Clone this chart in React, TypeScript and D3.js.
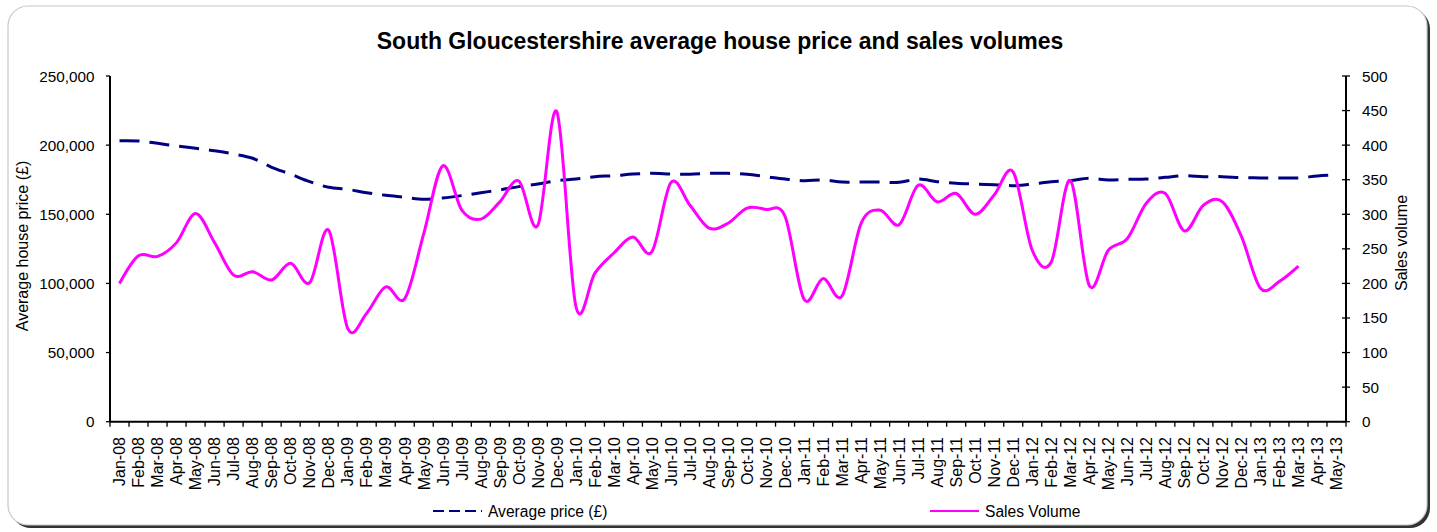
import React from "react";
import * as d3 from "d3";

const months = [
  "Jan-08","Feb-08","Mar-08","Apr-08","May-08","Jun-08","Jul-08","Aug-08","Sep-08","Oct-08","Nov-08","Dec-08",
  "Jan-09","Feb-09","Mar-09","Apr-09","May-09","Jun-09","Jul-09","Aug-09","Sep-09","Oct-09","Nov-09","Dec-09",
  "Jan-10","Feb-10","Mar-10","Apr-10","May-10","Jun-10","Jul-10","Aug-10","Sep-10","Oct-10","Nov-10","Dec-10",
  "Jan-11","Feb-11","Mar-11","Apr-11","May-11","Jun-11","Jul-11","Aug-11","Sep-11","Oct-11","Nov-11","Dec-11",
  "Jan-12","Feb-12","Mar-12","Apr-12","May-12","Jun-12","Jul-12","Aug-12","Sep-12","Oct-12","Nov-12","Dec-12",
  "Jan-13","Feb-13","Mar-13","Apr-13","May-13",
];

const averagePrice = [
  203200, 203000, 201300, 199400, 197700, 196000, 193600, 190500, 184000, 179000, 173600, 169500,
  168000, 165600, 163700, 162300, 160800, 161800, 163500, 165600, 167600, 170000, 171900, 174300,
  175500, 177200, 177900, 179100, 179600, 179100, 178900, 179600, 179600, 178900, 177200, 175500,
  174300, 174800, 173300, 173300, 173300, 173100, 175500, 173600, 172400, 171900, 171400, 170700,
  171900, 173600, 174300, 176000, 174800, 175300, 175500, 176700, 177900, 177200, 177200, 176500,
  176300, 176300, 176300, 177700, 178400,
];

const salesVolume = [
  200, 240, 239, 259, 301, 259, 212, 217, 205, 229, 201, 277,
  135, 157, 195, 178, 272, 370, 306, 293, 318, 348, 284, 448,
  167, 215, 244, 267, 246, 346, 313, 280, 287, 309, 307, 297,
  177, 207, 182, 287, 306, 285, 342, 318, 330, 300, 328, 361,
  248, 231, 349, 197, 248, 265, 316, 330, 276, 313, 318, 268,
  193, 203, 225,
];

const priceTicks = [0, 50000, 100000, 150000, 200000, 250000];
const volumeTicks = [0, 50, 100, 150, 200, 250, 300, 350, 400, 450, 500];

const W = 1437;
const H = 532;
const FONT = "'Liberation Sans', Arial, Helvetica, sans-serif";

export default function App() {
  const left = 110;
  const right = 1346;
  const top = 76;
  const bottom = 421.7;

  const x = d3.scaleBand<string>().domain(months).range([left, right]).paddingInner(0).paddingOuter(0);
  const yL = d3.scaleLinear().domain([0, 250000]).range([bottom, top]);
  const yR = d3.scaleLinear().domain([0, 500]).range([bottom, top]);
  const cx = (m: string) => (x(m) as number) + x.bandwidth() / 2;

  const priceLine = d3
    .line<number>()
    .x((_, i) => cx(months[i]))
    .y((d) => yL(d))
    .curve(d3.curveCatmullRom.alpha(0));
  const volLine = d3
    .line<number>()
    .x((_, i) => cx(months[i]))
    .y((d) => yR(d))
    .curve(d3.curveCatmullRom.alpha(0));

  const fmt = d3.format(",");
  const boundaries = d3.range(months.length + 1).map((k) => left + k * x.bandwidth());

  return (
    <svg
      width={W}
      height={H}
      style={{ position: "absolute", left: 0, top: 0, background: "#fff" }}
      fontFamily={FONT}
    >
      {/* frame with shadow */}
      <rect x={11} y={9} width={1419} height={519} rx={20} ry={20} fill="#333" />
      <rect x={8} y={6} width={1419} height={519} rx={20} ry={20} fill="#fff" stroke="#c8c8c8" strokeWidth={1.2} />

      {/* title */}
      <text x={720} y={49} textAnchor="middle" fontSize={23} fontWeight="bold" fill="#000">
        South Gloucestershire average house price and sales volumes
      </text>

      {/* left axis */}
      <line x1={left} x2={left} y1={top} y2={bottom} stroke="#000" strokeWidth={2} />
      {priceTicks.map((t) => (
        <g key={"pl" + t}>
          <line x1={left - 4} x2={left} y1={yL(t)} y2={yL(t)} stroke="#000" strokeWidth={1.3} />
          <text x={94.5} y={yL(t)} dy="0.36em" textAnchor="end" fontSize={15.3} fill="#000">
            {fmt(t)}
          </text>
        </g>
      ))}

      {/* right axis */}
      <line x1={right} x2={right} y1={top} y2={bottom} stroke="#000" strokeWidth={2} />
      {volumeTicks.map((t) => (
        <g key={"vr" + t}>
          <line x1={right - 4} x2={right + 4} y1={yR(t)} y2={yR(t)} stroke="#000" strokeWidth={1.3} />
          <text x={1362} y={yR(t)} dy="0.36em" textAnchor="start" fontSize={15.3} fill="#000">
            {t}
          </text>
        </g>
      ))}

      {/* x axis */}
      <line x1={left} x2={right} y1={bottom} y2={bottom} stroke="#000" strokeWidth={2} />
      {boundaries.map((b, k) => (
        <line key={"xt" + k} x1={b} x2={b} y1={bottom} y2={bottom + 5} stroke="#000" strokeWidth={1.3} />
      ))}
      {months.map((m) => (
        <text
          key={"xl" + m}
          transform={`translate(${cx(m)},437) rotate(-90)`}
          dy="0.36em"
          textAnchor="end"
          fontSize={16}
          fill="#000"
        >
          {m}
        </text>
      ))}

      {/* axis titles */}
      <text transform="translate(28,246) rotate(-90)" textAnchor="middle" fontSize={16} fill="#000">
        Average house price (£)
      </text>
      <text transform="translate(1407,243) rotate(-90)" textAnchor="middle" fontSize={16} fill="#000">
        Sales volume
      </text>

      {/* series */}
      <path
        d={priceLine(averagePrice) || ""}
        fill="none"
        stroke="#000080"
        strokeWidth={3}
        strokeDasharray="20,10"
      />
      <path d={volLine(salesVolume) || ""} fill="none" stroke="#FF00FF" strokeWidth={3} />

      {/* legend */}
      <line x1={433} x2={482} y1={511} y2={511} stroke="#000080" strokeWidth={2} strokeDasharray="11,5" />
      <text x={488} y={511} dy="0.36em" fontSize={15.6} fill="#000">
        Average price (£)
      </text>
      <line x1={930} x2={979} y1={511} y2={511} stroke="#FF00FF" strokeWidth={2} />
      <text x={985} y={511} dy="0.36em" fontSize={15.6} fill="#000">
        Sales Volume
      </text>
    </svg>
  );
}
